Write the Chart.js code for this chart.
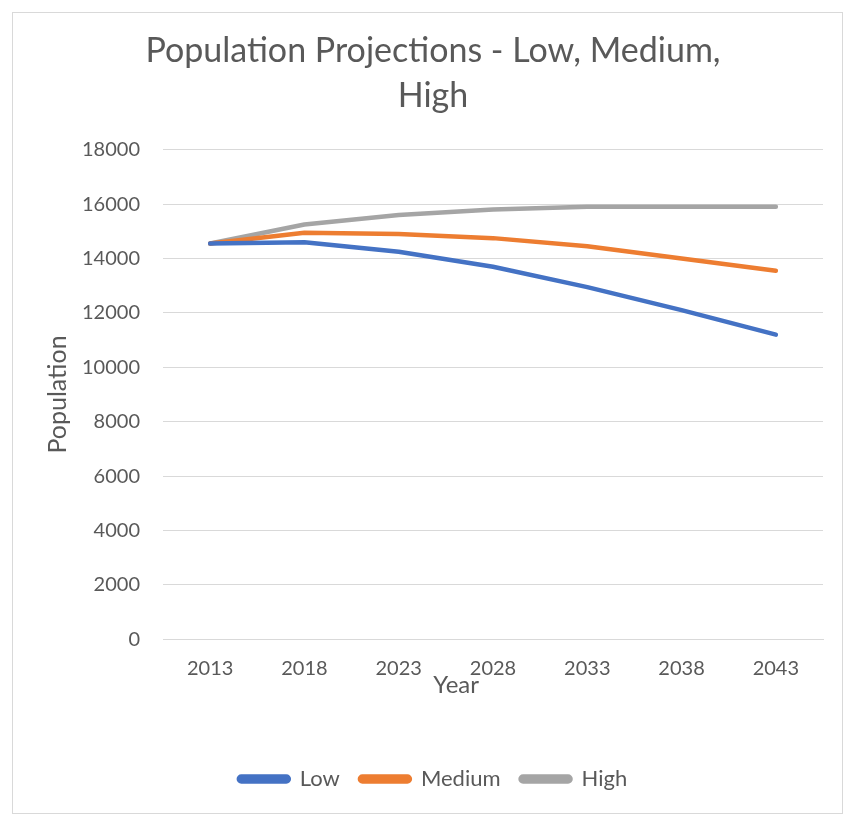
<!DOCTYPE html>
<html>
<head>
<meta charset="utf-8">
<script src="https://cdn.jsdelivr.net/npm/chart.js@4.4.1/dist/chart.umd.min.js"></script>
<style>
  html, body { margin: 0; padding: 0; background: #fff; }
  #box {
    position: absolute; left: 12px; top: 12px;
    width: 831px; height: 802px;
    border: 1px solid #d9d9d9; box-sizing: border-box;
  }
  #chartPop { display: block; }
</style>
</head>
<body>
<div id="box"><canvas id="chartPop" width="829" height="800"></canvas></div>
<script>
const years = ['2013', '2018', '2023', '2028', '2033', '2038', '2043']
const lowValues = [14550, 14600, 14250, 13700, 12950, 12100, 11200]
const mediumValues = [14550, 14950, 14900, 14750, 14450, 14000, 13550]
const highValues = [14550, 15250, 15600, 15800, 15900, 15900, 15900]

const textColor = '#595959'
const fontName = "Lato, 'Open Sans', sans-serif"

function lineSet(label, values, color) {
    return {
        label: label,
        data: values,
        borderColor: color,
        backgroundColor: color,
        borderWidth: 4.5,
        borderCapStyle: 'round',
        borderJoinStyle: 'round',
        pointRadius: 0,
        tension: 0
    }
}

const configPop = {
    type: 'line',
    data: {
        labels: years,
        datasets: [
            lineSet('Low', lowValues, '#4472C4'),
            lineSet('Medium', mediumValues, '#ED7D31'),
            lineSet('High', highValues, '#A5A5A5')
        ]
    },
    options: {
        responsive: false,
        animation: false,
        layout: {
            padding: { left: 30, right: 19, top: 16, bottom: 13 }
        },
        plugins: {
            title: {
                display: true,
                text: ['Population Projections - Low, Medium,', 'High'],
                color: textColor,
                font: { family: fontName, size: 34, weight: 'normal', lineHeight: 1.32 },
                padding: { top: 0, bottom: 31 }
            },
            legend: {
                position: 'bottom',
                labels: {
                    color: textColor,
                    font: { family: fontName, size: 22 },
                    boxWidth: 50,
                    boxHeight: 5,
                    useBorderRadius: true,
                    borderRadius: 2.5,
                    padding: 20
                }
            },
            tooltip: { enabled: false }
        },
        scales: {
            x: {
                offset: true,
                grid: { display: false, drawTicks: false },
                border: { color: '#d9d9d9' },
                ticks: {
                    color: textColor,
                    font: { family: fontName, size: 20 },
                    padding: 17
                },
                title: {
                    display: true,
                    // trailing spaces pull the centred title left of the plot centre
                    text: 'Year'.padEnd(16, ' '),
                    color: textColor,
                    font: { family: fontName, size: 24 },
                    padding: { top: -26, bottom: 48 }
                }
            },
            y: {
                min: 0,
                max: 18000,
                afterFit: function (scale) { scale.width = 120 },
                grid: { color: '#d9d9d9', drawTicks: false },
                border: { display: false },
                ticks: {
                    stepSize: 2000,
                    color: textColor,
                    font: { family: fontName, size: 20 },
                    padding: 23,
                    callback: function (value) { return String(value) }
                },
                title: {
                    display: true,
                    text: 'Population',
                    color: textColor,
                    font: { family: fontName, size: 25 },
                    padding: { top: 0, bottom: 9 }
                }
            }
        }
    }
}

var chartPop = new Chart(document.getElementById('chartPop'), configPop)
</script>
</body>
</html>
